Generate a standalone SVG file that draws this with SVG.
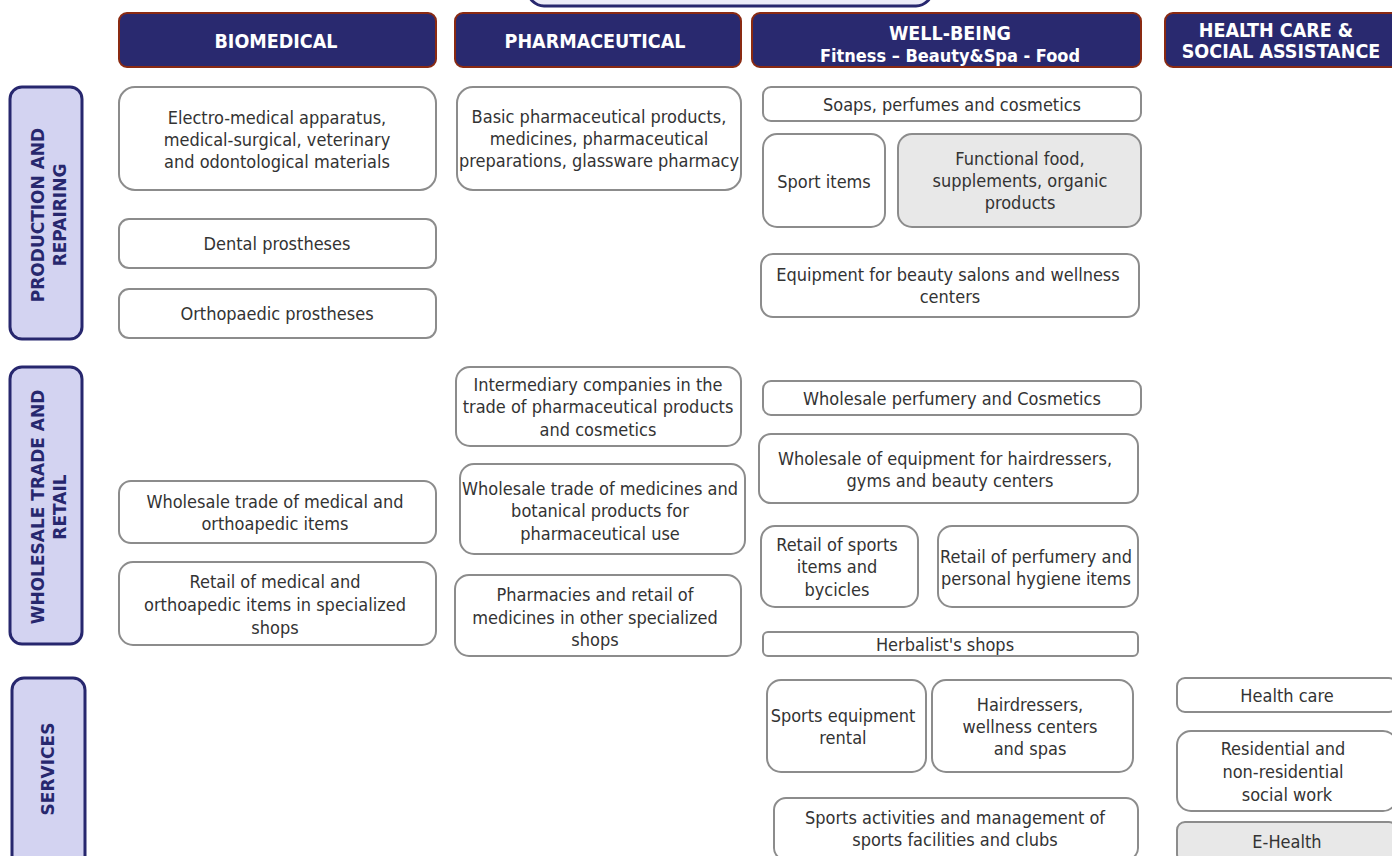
<svg xmlns="http://www.w3.org/2000/svg" width="1392" height="856" viewBox="0 0 1392 856">
<style>
.hdr rect{fill:#29296f;stroke:#8a2a12;stroke-width:2}
.hdr text{fill:#fff;font-family:"DejaVu Sans Condensed","DejaVu Sans",sans-serif;font-weight:bold;font-size:19.5px;text-anchor:middle}
.hdr text.sub{font-size:18px}
.side rect{fill:#d3d3f1;stroke:#27276e;stroke-width:3}
.side text{fill:#27276e;font-family:"DejaVu Sans",sans-serif;font-weight:bold;font-size:17px;text-anchor:middle}
.box rect{fill:#fff;stroke:#8c8c8c;stroke-width:2}
.box.grey rect{fill:#e8e8e8}
.box text{fill:#333;font-family:"DejaVu Sans Condensed","DejaVu Sans",sans-serif;font-size:18px;text-anchor:middle}
</style>
<rect x="0" y="0" width="1392" height="856" fill="#fff"/>
<g id="top"><rect x="528" y="-40" width="404" height="46" rx="16" fill="#ececf8" stroke="#27276e" stroke-width="3"/></g>

<g id="h-bio" class="hdr"><rect x="119" y="13" width="317" height="54" rx="8"/><text x="276" y="48">BIOMEDICAL</text></g>
<g id="h-pharma" class="hdr"><rect x="455" y="13" width="286" height="54" rx="8"/><text x="595" y="48">PHARMACEUTICAL</text></g>
<g id="h-well" class="hdr"><rect x="752" y="13" width="389" height="54" rx="8"/><text x="950" y="40">WELL-BEING</text><text class="sub" x="950" y="62">Fitness – Beauty&amp;Spa - Food</text></g>
<g id="h-health" class="hdr"><rect x="1165" y="13" width="235" height="54" rx="8"/><text x="1276" y="37">HEALTH CARE &amp;</text><text x="1281" y="58">SOCIAL ASSISTANCE</text></g>

<g id="s-prod" class="side"><rect x="10" y="87" width="72" height="252" rx="12"/><text transform="translate(44,215) rotate(-90)">PRODUCTION AND</text><text transform="translate(66,215) rotate(-90)">REPAIRING</text></g>
<g id="s-whole" class="side"><rect x="10" y="367" width="72" height="277" rx="12"/><text transform="translate(44,507) rotate(-90)">WHOLESALE TRADE AND</text><text transform="translate(66,507) rotate(-90)">RETAIL</text></g>
<g id="s-serv" class="side"><rect x="12" y="678" width="73" height="190" rx="12"/><text transform="translate(54,769) rotate(-90)">SERVICES</text></g>

<g id="n-electro" class="box"><rect x="119" y="87" width="317" height="103" rx="16"/><text x="277" y="124">Electro-medical apparatus,</text><text x="277" y="146">medical-surgical, veterinary</text><text x="277" y="168">and odontological materials</text></g>
<g id="n-dental" class="box"><rect x="119" y="219" width="317" height="49" rx="10"/><text x="277" y="250">Dental  prostheses</text></g>
<g id="n-ortho" class="box"><rect x="119" y="289" width="317" height="49" rx="10"/><text x="277" y="320">Orthopaedic prostheses</text></g>
<g id="n-wmed" class="box"><rect x="119" y="481" width="317" height="62" rx="12"/><text x="275" y="508">Wholesale trade of medical and</text><text x="275" y="530">orthoapedic items</text></g>
<g id="n-rmed" class="box"><rect x="119" y="562" width="317" height="83" rx="14"/><text x="275" y="588">Retail of medical and</text><text x="275" y="611">orthoapedic items in specialized</text><text x="275" y="634">shops</text></g>

<g id="n-basic" class="box"><rect x="457" y="87" width="284" height="103" rx="16"/><text x="599" y="123">Basic pharmaceutical products,</text><text x="599" y="145">medicines, pharmaceutical</text><text x="599" y="167">preparations, glassware pharmacy</text></g>
<g id="n-inter" class="box"><rect x="456" y="367" width="285" height="79" rx="14"/><text x="598" y="391">Intermediary companies in the</text><text x="598" y="413">trade of pharmaceutical products</text><text x="598" y="436">and cosmetics</text></g>
<g id="n-wmeds" class="box"><rect x="460" y="464" width="285" height="90" rx="14"/><text x="600" y="495">Wholesale trade of medicines and</text><text x="600" y="517">botanical products for</text><text x="600" y="540">pharmaceutical use</text></g>
<g id="n-pharmacies" class="box"><rect x="455" y="575" width="286" height="81" rx="14"/><text x="595" y="601">Pharmacies and retail of</text><text x="595" y="624">medicines in other specialized</text><text x="595" y="646">shops</text></g>

<g id="n-soaps" class="box"><rect x="763" y="87" width="378" height="34" rx="8"/><text x="952" y="111">Soaps, perfumes and cosmetics</text></g>
<g id="n-sport" class="box"><rect x="763" y="134" width="122" height="93" rx="14"/><text x="824" y="188">Sport items</text></g>
<g id="n-food" class="box grey"><rect x="898" y="134" width="243" height="93" rx="14"/><text x="1020" y="165">Functional food,</text><text x="1020" y="187">supplements, organic</text><text x="1020" y="209">products</text></g>
<g id="n-equip" class="box"><rect x="761" y="254" width="378" height="63" rx="12"/><text x="948" y="281">Equipment for beauty salons and wellness</text><text x="950" y="303">centers</text></g>
<g id="n-wperf" class="box"><rect x="763" y="381" width="378" height="34" rx="8"/><text x="952" y="405">Wholesale perfumery and Cosmetics</text></g>
<g id="n-wequip" class="box"><rect x="759" y="434" width="379" height="69" rx="12"/><text x="945" y="465">Wholesale of equipment for hairdressers,</text><text x="950" y="487">gyms and beauty centers</text></g>
<g id="n-rsport" class="box"><rect x="761" y="526" width="157" height="81" rx="14"/><text x="837" y="551">Retail of sports</text><text x="837" y="573">items and</text><text x="837" y="596">bycicles</text></g>
<g id="n-rperf" class="box"><rect x="938" y="526" width="200" height="81" rx="14"/><text x="1036" y="563">Retail of perfumery and</text><text x="1036" y="585">personal hygiene items</text></g>
<g id="n-herb" class="box"><rect x="763" y="632" width="375" height="24" rx="5"/><text x="945" y="651">Herbalist's shops</text></g>
<g id="n-rental" class="box"><rect x="767" y="680" width="159" height="92" rx="14"/><text x="843" y="722">Sports equipment</text><text x="843" y="744">rental</text></g>
<g id="n-hair" class="box"><rect x="932" y="680" width="201" height="92" rx="14"/><text x="1030" y="711">Hairdressers,</text><text x="1030" y="733">wellness centers</text><text x="1030" y="755">and spas</text></g>
<g id="n-sportsact" class="box"><rect x="774" y="798" width="364" height="62" rx="12"/><text x="955" y="824">Sports activities and management of</text><text x="955" y="846">sports facilities and clubs</text></g>

<g id="n-healthcare" class="box"><rect x="1177" y="678" width="220" height="34" rx="8"/><text x="1287" y="702">Health care</text></g>
<g id="n-resid" class="box"><rect x="1177" y="731" width="220" height="80" rx="14"/><text x="1283" y="755">Residential and</text><text x="1283" y="778">non-residential</text><text x="1287" y="801">social work</text></g>
<g id="n-ehealth" class="box grey"><rect x="1177" y="822" width="220" height="40" rx="8"/><text x="1287" y="848">E-Health</text></g>

<g id="connectors"></g>
</svg>
